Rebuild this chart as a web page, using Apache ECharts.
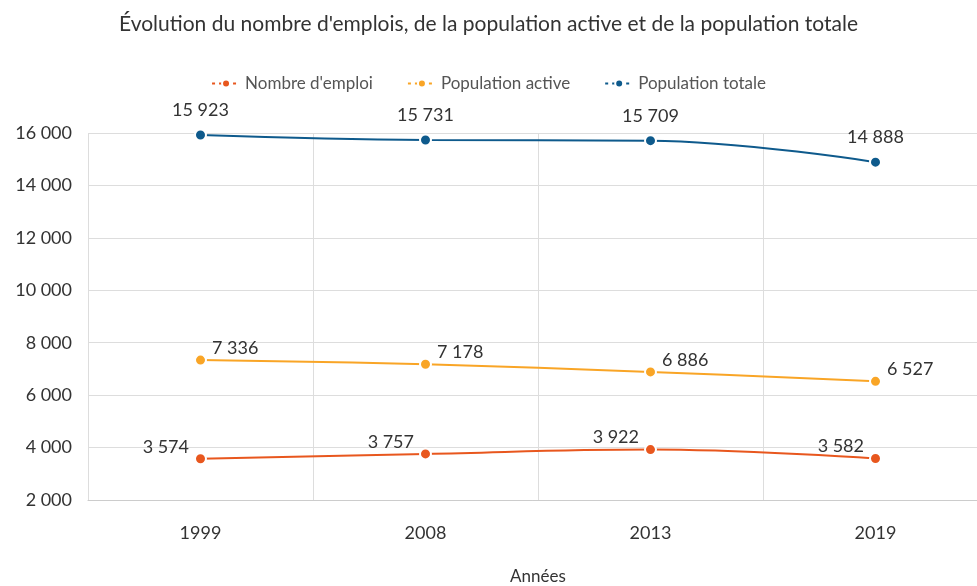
<!DOCTYPE html>
<html>
<head>
<meta charset="utf-8">
<script src="https://cdn.jsdelivr.net/npm/echarts@6/dist/echarts.min.js"></script>
<style>
html, body { margin: 0; padding: 0; background: #fff; }
#chart { width: 977px; height: 586px; }
</style>
</head>
<body>
<div id="chart"></div>
<script>
var annees = ['1999', '2008', '2013', '2019'];
var emploi = [3574, 3757, 3922, 3582];
var active = [7336, 7178, 6886, 6527];
var totale = [15923, 15731, 15709, 14888];

var police = 'Lato';

function fmt(v) {
    return String(v).replace(/\B(?=(\d{3})+(?!\d))/g, '\u00a0');
}

function serie(nom, data, couleur, label) {
    return {
        name: nom,
        type: 'line',
        data: data,
        smooth: 0.4,
        symbol: 'circle',
        symbolSize: 11,
        itemStyle: { color: couleur, borderColor: '#fff', borderWidth: 2 },
        lineStyle: { color: couleur, width: 2 },
        label: Object.assign({
            show: true,
            color: '#333',
            fontSize: 18,
            fontFamily: police,
            formatter: function (p) { return fmt(p.value); }
        }, label)
    };
}

var option = {
    animation: false,
    textStyle: { fontFamily: police },
    title: {
        text: "Évolution du nombre d'emplois, de la population active et de la population totale",
        left: 'center',
        top: 9,
        textStyle: { color: '#333', fontSize: 21, fontWeight: 'normal', fontFamily: police }
    },
    legend: {
        top: 70,
        left: 'center',
        itemGap: 34,
        itemWidth: 28,
        itemHeight: 10,
        lineStyle: { type: [3, 4] },
        textStyle: { color: '#555', fontSize: 17, fontFamily: police },
        data: ["Nombre d'emploi", 'Population active', 'Population totale']
    },
    grid: { left: 88, width: 900, top: 133, bottom: 86, outerBoundsMode: 'none' },
    xAxis: {
        type: 'category',
        data: annees,
        name: 'Années',
        nameLocation: 'middle',
        nameGap: 68,
        nameTextStyle: { color: '#333', fontSize: 17, fontFamily: police },
        axisLine: { lineStyle: { color: '#ccc' } },
        axisTick: { alignWithLabel: true, length: 6, lineStyle: { color: '#999' } },
        axisLabel: { color: '#333', fontSize: 18, margin: 24, fontFamily: police },
        splitLine: { show: true, lineStyle: { color: '#ddd' } }
    },
    yAxis: {
        type: 'value',
        min: 2000,
        max: 16000,
        interval: 2000,
        axisLine: { show: false },
        axisTick: { show: false },
        axisLabel: { color: '#333', fontSize: 18, margin: 16, fontFamily: police, formatter: fmt },
        splitLine: { lineStyle: { color: '#ddd' } }
    },
    series: [
        serie("Nombre d'emploi", emploi, '#e8571e', { position: 'left', distance: 5, offset: [0, -12] }),
        serie('Population active', active, '#f9a526', { position: 'right', distance: 5, offset: [0, -12] }),
        serie('Population totale', totale, '#0e5a8c', { position: 'top', distance: 9 })
    ]
};

var myChart = echarts.init(document.getElementById('chart'));
myChart.setOption(option);
</script>
</body>
</html>
